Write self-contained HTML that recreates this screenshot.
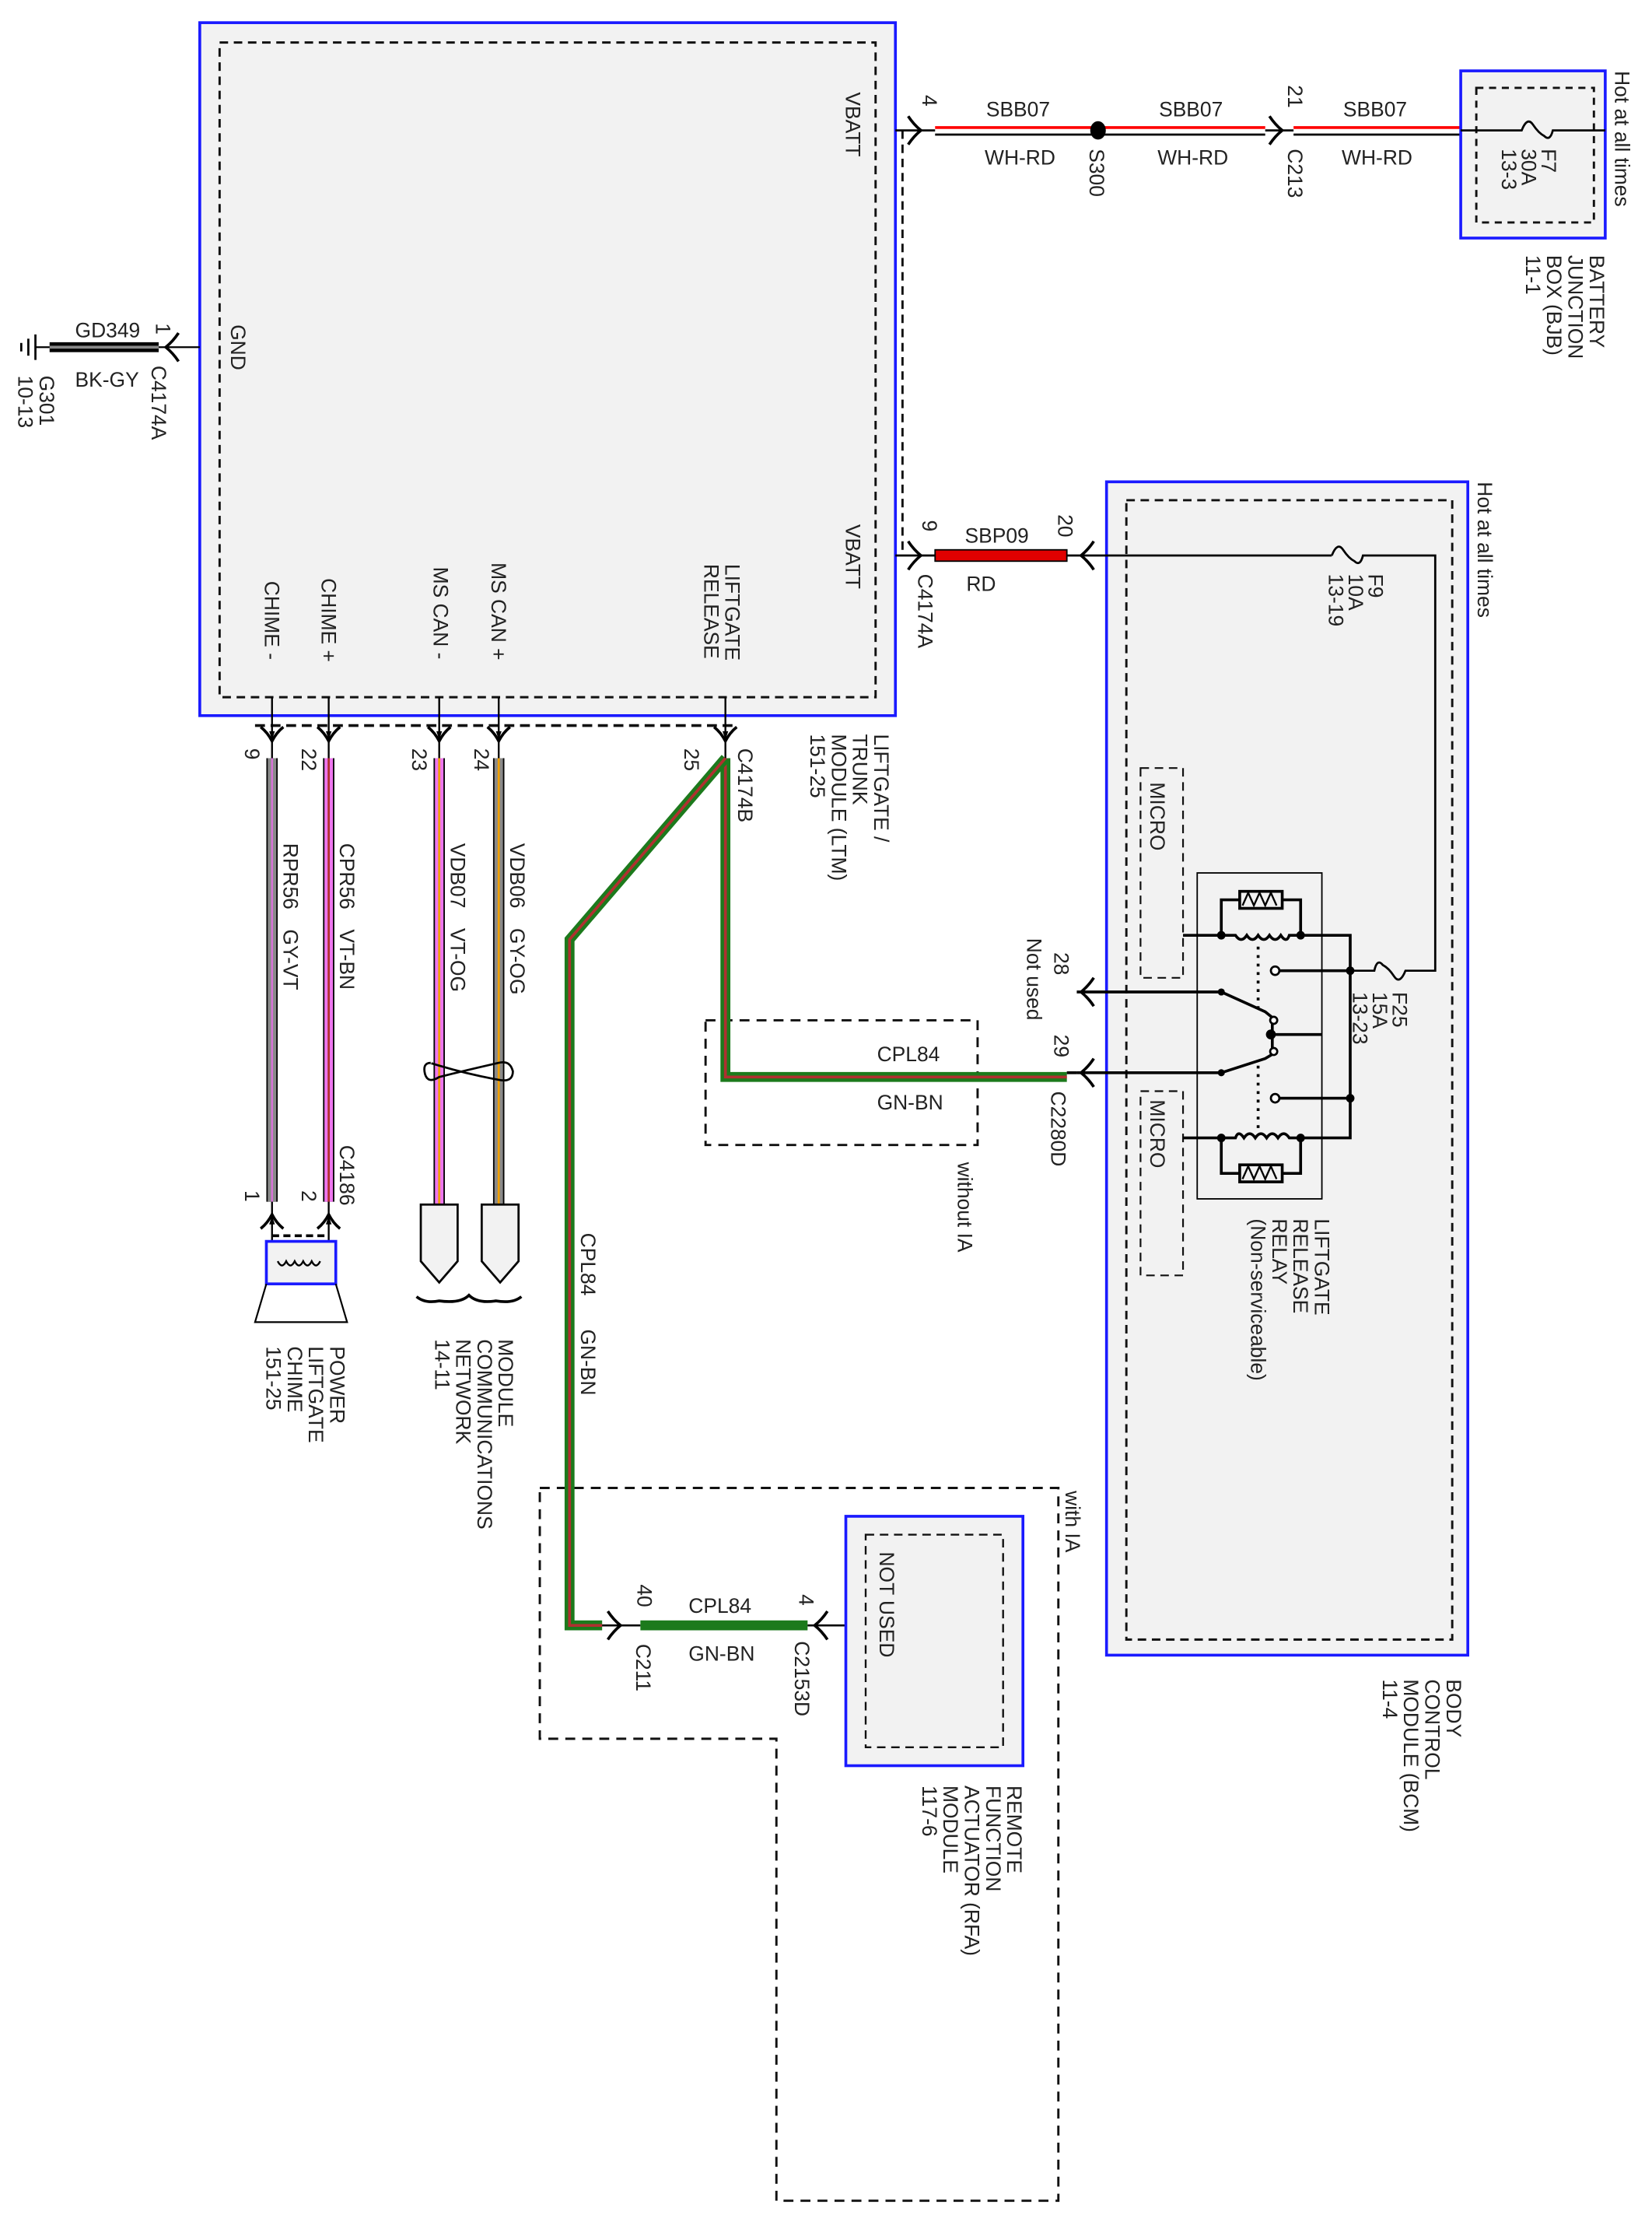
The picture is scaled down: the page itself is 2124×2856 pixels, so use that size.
<!DOCTYPE html>
<html><head><meta charset="utf-8"><style>
html,body{margin:0;padding:0;background:#fff}
svg{display:block}
text{font-family:"Liberation Sans",Arial,sans-serif;font-size:14.5px;fill:#222}
</style></head><body>
<svg width="2124" height="2856" viewBox="0 0 1166 1568" preserveAspectRatio="none" xmlns="http://www.w3.org/2000/svg">
<defs>
<g id="chevL"><path d="M-4,-10 Q0,-4 5,0 Q0,4 -4,10" fill="none" stroke="#000" stroke-width="2"/></g>
<g id="chevR"><path d="M4,-10 Q0,-4 -5,0 Q0,4 4,10" fill="none" stroke="#000" stroke-width="2"/></g>
<g id="chevD"><path d="M-8,-5 Q-3,-1 0,5 Q3,-1 8,-5" fill="none" stroke="#000" stroke-width="2"/><path d="M-2,-2 L0,4 L2,-2Z" fill="#000"/></g>
<g id="chevU"><path d="M-8,5 Q-3,1 0,-5 Q3,1 8,5" fill="none" stroke="#000" stroke-width="2"/><path d="M-2,2 L0,-4 L2,2Z" fill="#000"/></g>
</defs>

<rect x="141" y="16" width="491" height="489" fill="#f2f2f2" stroke="#1a1aff" stroke-width="2"/>
<rect x="155" y="30" width="463" height="462" fill="none" stroke="#111" stroke-width="1.6" stroke-dasharray="6,4"/>
<line x1="637" y1="92" x2="637" y2="392" stroke="#111" stroke-width="1.6" stroke-dasharray="6,4"/>
<line x1="180" y1="512" x2="518" y2="512" stroke="#111" stroke-width="2" stroke-dasharray="7,4"/>

<text transform="translate(597,65) rotate(90)">VBATT</text>
<text transform="translate(163,229) rotate(90)">GND</text>
<text transform="translate(597,370) rotate(90)">VBATT</text>
<text transform="translate(187,410) rotate(90)">CHIME -</text>
<text transform="translate(227,408) rotate(90)">CHIME +</text>
<text transform="translate(306,400) rotate(90)">MS CAN -</text>
<text transform="translate(347,397) rotate(90)">MS CAN +</text>
<text transform="translate(512,398) rotate(90)"><tspan x="0" dy="0">LIFTGATE</tspan><tspan x="0" dy="15">RELEASE</tspan></text>
<text transform="translate(617,518) rotate(90)"><tspan x="0" dy="0">LIFTGATE /</tspan><tspan x="0" dy="15">TRUNK</tspan><tspan x="0" dy="15">MODULE (LTM)</tspan><tspan x="0" dy="15">151-25</tspan></text>

<g stroke="#000" stroke-width="1.3">
<line x1="192" y1="492" x2="192" y2="535"/><line x1="232" y1="492" x2="232" y2="535"/>
<line x1="310" y1="492" x2="310" y2="535"/><line x1="352" y1="492" x2="352" y2="535"/>
<line x1="512" y1="492" x2="512" y2="535"/>
</g>
<use href="#chevD" x="192" y="518"/><use href="#chevD" x="232" y="518"/><use href="#chevD" x="310" y="518"/><use href="#chevD" x="352" y="518"/><use href="#chevD" x="512" y="518"/>
<text transform="translate(173,528) rotate(90)">9</text>
<text transform="translate(213,528) rotate(90)">22</text>
<text transform="translate(291,528) rotate(90)">23</text>
<text transform="translate(335,528) rotate(90)">24</text>
<text transform="translate(483,528) rotate(90)">25</text>
<text transform="translate(521,528) rotate(90)">C4174B</text>

<line x1="632" y1="92" x2="660" y2="92" stroke="#000" stroke-width="1.5"/>
<use href="#chevL" x="645" y="92"/>
<text transform="translate(651,67) rotate(90)">4</text>
<g>
<line x1="660" y1="90" x2="771" y2="90" stroke="#f00" stroke-width="2"/><line x1="660" y1="95" x2="771" y2="95" stroke="#000" stroke-width="1.5"/>
<line x1="779" y1="90" x2="893" y2="90" stroke="#f00" stroke-width="2"/><line x1="779" y1="95" x2="893" y2="95" stroke="#000" stroke-width="1.5"/>
<line x1="913" y1="90" x2="1031" y2="90" stroke="#f00" stroke-width="2"/><line x1="913" y1="95" x2="1031" y2="95" stroke="#000" stroke-width="1.5"/>
</g>
<line x1="893" y1="92" x2="913" y2="92" stroke="#000" stroke-width="1.5"/>
<ellipse cx="775" cy="92" rx="5.5" ry="6.5" fill="#000"/>
<use href="#chevL" x="900" y="92"/>
<text x="696" y="82">SBB07</text><text x="695" y="116">WH-RD</text>
<text x="818" y="82">SBB07</text><text x="817" y="116">WH-RD</text>
<text x="948" y="82">SBB07</text><text x="947" y="116">WH-RD</text>
<text transform="translate(769,105) rotate(90)">S300</text>
<text transform="translate(909,60) rotate(90)">21</text>
<text transform="translate(909,105) rotate(90)">C213</text>

<rect x="1031" y="50" width="102" height="118" fill="#f2f2f2" stroke="#1a1aff" stroke-width="2"/>
<rect x="1042" y="62" width="83" height="95" fill="none" stroke="#111" stroke-width="1.6" stroke-dasharray="5,4"/>
<path d="M1031,92 H1074 Q1078,82 1082,88 T1090,96 Q1094,100 1096,92 H1133" fill="none" stroke="#000" stroke-width="1.5"/>
<text transform="translate(1088,105) rotate(90)"><tspan x="0" dy="0">F7</tspan><tspan x="0" dy="14">30A</tspan><tspan x="0" dy="14">13-3</tspan></text>
<text transform="translate(1140,50) rotate(90)">Hot at all times</text>
<text transform="translate(1122,180) rotate(90)"><tspan x="0" dy="0">BATTERY</tspan><tspan x="0" dy="15">JUNCTION</tspan><tspan x="0" dy="15">BOX (BJB)</tspan><tspan x="0" dy="15">11-1</tspan></text>

<line x1="25" y1="245" x2="141" y2="245" stroke="#000" stroke-width="1.3"/>
<line x1="35" y1="245" x2="112" y2="245" stroke="#000" stroke-width="7"/>
<line x1="35" y1="245" x2="112" y2="245" stroke="#888" stroke-width="2"/>
<use href="#chevR" x="122" y="245"/>
<g stroke="#000" stroke-width="1.5"><line x1="25" y1="236" x2="25" y2="254"/><line x1="20" y1="239" x2="20" y2="251"/><line x1="15" y1="242" x2="15" y2="248"/></g>
<text x="53" y="238">GD349</text><text x="53" y="273">BK-GY</text>
<text transform="translate(110,228) rotate(90)">1</text>
<text transform="translate(107,258) rotate(90)">C4174A</text>
<text transform="translate(28,265) rotate(90)"><tspan x="0" dy="0">G301</tspan><tspan x="0" dy="15">10-13</tspan></text>

<rect x="781" y="340" width="255" height="828" fill="#f2f2f2" stroke="#1a1aff" stroke-width="2"/>
<rect x="795" y="353" width="230" height="804" fill="none" stroke="#111" stroke-width="1.6" stroke-dasharray="6,4"/>
<text transform="translate(1043,340) rotate(90)">Hot at all times</text>
<text transform="translate(1021,1185) rotate(90)"><tspan x="0" dy="0">BODY</tspan><tspan x="0" dy="15">CONTROL</tspan><tspan x="0" dy="15">MODULE (BCM)</tspan><tspan x="0" dy="15">11-4</tspan></text>

<line x1="632" y1="392" x2="660" y2="392" stroke="#000" stroke-width="1.5"/>
<use href="#chevL" x="645" y="392"/>
<rect x="660" y="388" width="93" height="8" fill="#e00000" stroke="#000" stroke-width="1"/>
<line x1="753" y1="392" x2="940" y2="392" stroke="#000" stroke-width="1.5"/>
<use href="#chevR" x="768" y="392"/>
<path d="M940,392 Q944,382 948,388 T956,396 Q960,400 962,392 H1013 V685 H992 Q988,695 984,689 T976,681 Q972,676 970,685 H953" fill="none" stroke="#000" stroke-width="1.5"/>
<text x="681" y="383">SBP09</text><text x="682" y="417">RD</text>
<text transform="translate(651,367) rotate(90)">9</text>
<text transform="translate(747,363) rotate(90)">20</text>
<text transform="translate(648,405) rotate(90)">C4174A</text>
<text transform="translate(966,405) rotate(90)"><tspan x="0" dy="0">F9</tspan><tspan x="0" dy="14">10A</tspan><tspan x="0" dy="14">13-19</tspan></text>
<text transform="translate(983,700) rotate(90)"><tspan x="0" dy="0">F25</tspan><tspan x="0" dy="14">15A</tspan><tspan x="0" dy="14">13-23</tspan></text>

<rect x="805" y="542" width="30" height="148" fill="none" stroke="#111" stroke-width="1.2" stroke-dasharray="6,4"/>
<rect x="805" y="770" width="30" height="130" fill="none" stroke="#111" stroke-width="1.2" stroke-dasharray="6,4"/>
<text transform="translate(812,552) rotate(90)">MICRO</text>
<text transform="translate(812,776) rotate(90)">MICRO</text>

<rect x="845" y="616" width="88" height="230" fill="none" stroke="#000" stroke-width="1"/>
<g fill="none" stroke="#000" stroke-width="2">
<path d="M835,660 H872 q4,6 8,0 q4,6 8,0 q4,6 8,0 q4,6 8,0 q4,6 6,0 H953 V803 H910 q-4,-6 -8,0 q-4,-6 -8,0 q-4,-6 -8,0 q-4,-6 -8,0 q-4,-6 -6,0 H835"/>
<path d="M862,660 V635 H875 M905,635 H918 V660"/>
<path d="M862,803 V828 H875 M905,828 H918 V803"/>
<rect x="875" y="629" width="30" height="12"/>
<rect x="875" y="822" width="30" height="12"/>
<path d="M877,639 L881,630 L885,639 L889,630 L893,639 L897,630 L901,639" stroke-width="1.3"/>
<path d="M877,832 L881,823 L885,832 L889,823 L893,832 L897,823 L901,832" stroke-width="1.3"/>
<path d="M903,685 H953 M903,775 H953 M897,730 H933"/>
<path d="M760,700 H862 L893,714 L898,718 M760,757 H862 L893,747 L898,744 M898,722 V740"/>
</g>
<g fill="#fff" stroke="#000" stroke-width="1.5"><circle cx="900" cy="685" r="3"/><circle cx="900" cy="775" r="3"/><circle cx="899" cy="720" r="2.5"/><circle cx="899" cy="742" r="2.5"/></g>
<g fill="#000"><circle cx="862" cy="660" r="3"/><circle cx="918" cy="660" r="3"/><circle cx="862" cy="803" r="3"/><circle cx="918" cy="803" r="3"/><circle cx="953" cy="685" r="3"/><circle cx="953" cy="775" r="3"/><circle cx="897" cy="730" r="3.5"/><circle cx="862" cy="700" r="2.5"/><circle cx="862" cy="757" r="2.5"/></g>
<line x1="888" y1="668" x2="888" y2="712" stroke="#000" stroke-width="2" stroke-dasharray="2,4"/>
<line x1="888" y1="752" x2="888" y2="798" stroke="#000" stroke-width="2" stroke-dasharray="2,4"/>
<use href="#chevR" x="768" y="700"/><use href="#chevR" x="768" y="757"/>
<text transform="translate(744,672) rotate(90)">28</text>
<text transform="translate(725,662) rotate(90)">Not used</text>
<text transform="translate(744,730) rotate(90)">29</text>
<text transform="translate(742,770) rotate(90)">C2280D</text>
<text transform="translate(928,860) rotate(90)"><tspan x="0" dy="0">LIFTGATE</tspan><tspan x="0" dy="15">RELEASE</tspan><tspan x="0" dy="15">RELAY</tspan><tspan x="0" dy="15">(Non-serviceable)</tspan></text>

<rect x="498" y="720" width="192" height="88" fill="none" stroke="#111" stroke-width="1.6" stroke-dasharray="7,5"/>
<text transform="translate(676,820) rotate(90)">without IA</text>
<path d="M381,1050 H747 V1553 H548 V1227 H381 Z" fill="none" stroke="#111" stroke-width="1.6" stroke-dasharray="7,5"/>
<text transform="translate(752,1052) rotate(90)">with IA</text>

<g fill="none" stroke-linejoin="miter">
<path d="M512,535 V760 H753" stroke="#1c7a1c" stroke-width="7"/>
<path d="M512,535 V760 H753" stroke="#b03030" stroke-width="2"/>
<path d="M512,535 L402,663 V1147 H425" stroke="#1c7a1c" stroke-width="7"/>
<path d="M512,535 L402,663 V1147 H425" stroke="#b03030" stroke-width="2"/>
</g>
<line x1="753" y1="757" x2="760" y2="757" stroke="#000" stroke-width="2"/>
<text x="619" y="749">CPL84</text><text x="619" y="783">GN-BN</text>
<text transform="translate(410,870) rotate(90)">CPL84</text>
<text transform="translate(410,938) rotate(90)">GN-BN</text>

<line x1="425" y1="1147" x2="452" y2="1147" stroke="#000" stroke-width="1.5"/>
<use href="#chevL" x="433" y="1147"/>
<line x1="452" y1="1147" x2="570" y2="1147" stroke="#1c7a1c" stroke-width="7"/>
<line x1="570" y1="1147" x2="597" y2="1147" stroke="#000" stroke-width="1.5"/>
<use href="#chevR" x="580" y="1147"/>
<text transform="translate(450,1118) rotate(90)">40</text>
<text transform="translate(449,1160) rotate(90)">C211</text>
<text x="486" y="1138">CPL84</text><text x="486" y="1172">GN-BN</text>
<text transform="translate(564,1125) rotate(90)">4</text>
<text transform="translate(561,1158) rotate(90)">C2153D</text>

<rect x="597" y="1070" width="125" height="176" fill="#f2f2f2" stroke="#1a1aff" stroke-width="2"/>
<rect x="611" y="1083" width="97" height="150" fill="none" stroke="#111" stroke-width="1.3" stroke-dasharray="6,4"/>
<text transform="translate(621,1095) rotate(90)">NOT USED</text>
<text transform="translate(711,1260) rotate(90)"><tspan x="0" dy="0">REMOTE</tspan><tspan x="0" dy="15">FUNCTION</tspan><tspan x="0" dy="15">ACTUATOR (RFA)</tspan><tspan x="0" dy="15">MODULE</tspan><tspan x="0" dy="15">117-6</tspan></text>

<g>
<line x1="192" y1="535" x2="192" y2="848" stroke="#000" stroke-width="8"/>
<line x1="192" y1="535" x2="192" y2="848" stroke="#8a8a8a" stroke-width="6"/>
<line x1="192" y1="535" x2="192" y2="848" stroke="#e070e0" stroke-width="1.2"/>
<line x1="232" y1="535" x2="232" y2="848" stroke="#000" stroke-width="8"/>
<line x1="232" y1="535" x2="232" y2="848" stroke="#ee77ee" stroke-width="6"/>
<line x1="232" y1="535" x2="232" y2="848" stroke="#b03030" stroke-width="1.5"/>
<line x1="310" y1="535" x2="310" y2="850" stroke="#000" stroke-width="8"/>
<line x1="310" y1="535" x2="310" y2="850" stroke="#ee77ee" stroke-width="6"/>
<line x1="310" y1="535" x2="310" y2="850" stroke="#f0a000" stroke-width="1.5"/>
<line x1="352" y1="535" x2="352" y2="850" stroke="#000" stroke-width="8"/>
<line x1="352" y1="535" x2="352" y2="850" stroke="#8a8a8a" stroke-width="6"/>
<line x1="352" y1="535" x2="352" y2="850" stroke="#f0a000" stroke-width="1.5"/>
</g>
<text transform="translate(200,595) rotate(90)">RPR56<tspan dx="14">GY-VT</tspan></text>
<text transform="translate(240,595) rotate(90)">CPR56<tspan dx="14">VT-BN</tspan></text>
<text transform="translate(318,595) rotate(90)">VDB07<tspan dx="14">VT-OG</tspan></text>
<text transform="translate(360,595) rotate(90)">VDB06<tspan dx="14">GY-OG</tspan></text>
<text transform="translate(240,808) rotate(90)">C4186</text>
<text transform="translate(173,840) rotate(90)">1</text>
<text transform="translate(213,840) rotate(90)">2</text>
<g stroke="#000" stroke-width="1.3"><line x1="192" y1="848" x2="192" y2="890"/><line x1="232" y1="848" x2="232" y2="890"/></g>
<use href="#chevU" x="192" y="862"/><use href="#chevU" x="232" y="862"/>
<line x1="192" y1="872" x2="232" y2="872" stroke="#000" stroke-width="2" stroke-dasharray="5,3"/>
<rect x="188" y="876" width="49" height="30" fill="#f2f2f2" stroke="#1a1aff" stroke-width="2"/>
<path d="M196,890 q3,6 6,0 q3,6 6,0 q3,6 6,0 q3,6 6,0 q3,6 6,0" fill="none" stroke="#000" stroke-width="1.3"/>
<path d="M188,906 L180,933 H245 L237,906" fill="none" stroke="#000" stroke-width="1.2"/>
<text transform="translate(233,950) rotate(90)"><tspan x="0" dy="0">POWER</tspan><tspan x="0" dy="15">LIFTGATE</tspan><tspan x="0" dy="15">CHIME</tspan><tspan x="0" dy="15">151-25</tspan></text>

<path d="M304,750 Q298,750 300,758 Q302,765 310,760 Q330,755 352,750 Q360,748 362,756 Q362,764 352,762 Q330,758 310,752 Q303,750 304,750Z" fill="none" stroke="#000" stroke-width="1.5"/>
<path d="M297,850 H323 V890 L310,905 L297,890Z" fill="#f2f2f2" stroke="#000" stroke-width="1.5"/>
<path d="M340,850 H366 V890 L353,905 L340,890Z" fill="#f2f2f2" stroke="#000" stroke-width="1.5"/>
<path d="M294,915 Q300,920 310,918 Q325,920 331,914 Q337,920 350,918 Q362,920 368,915" fill="none" stroke="#000" stroke-width="2"/>
<text transform="translate(352,945) rotate(90)"><tspan x="0" dy="0">MODULE</tspan><tspan x="0" dy="15">COMMUNICATIONS</tspan><tspan x="0" dy="15">NETWORK</tspan><tspan x="0" dy="15">14-11</tspan></text>
</svg>
</body></html>
